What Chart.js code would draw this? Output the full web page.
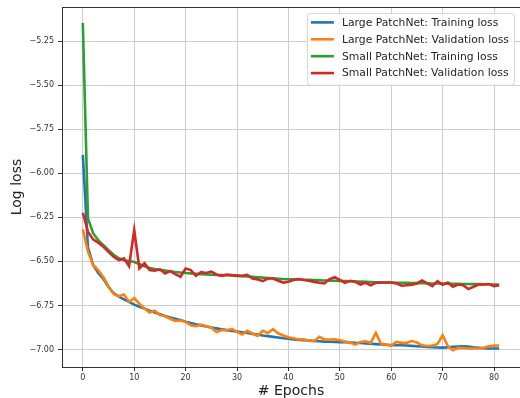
<!DOCTYPE html>
<html>
<head>
<meta charset="utf-8">
<script src="https://cdn.jsdelivr.net/npm/chart.js@4.4.1/dist/chart.umd.min.js"></script>
<style>
  html, body { margin: 0; padding: 0; background: #fff; }
  canvas { display: block; }
</style>
</head>
<body>
<canvas id="lossChart" width="520" height="398"></canvas>
<script>
// epochs on the x axis
const epochs = [0, 1, 2, 3, 4, 5, 6, 7, 8, 9, 10, 11, 12, 13, 14, 15, 16, 17, 18, 19,
  20, 21, 22, 23, 24, 25, 26, 27, 28, 29, 30, 31, 32, 33, 34, 35, 36, 37, 38, 39,
  40, 41, 42, 43, 44, 45, 46, 47, 48, 49, 50, 51, 52, 53, 54, 55, 56, 57, 58, 59,
  60, 61, 62, 63, 64, 65, 66, 67, 68, 69, 70, 71, 72, 73, 74, 75, 76, 77, 78, 79,
  80, 81];

// log loss per epoch
const largeTrain = [-5.896, -6.42, -6.52, -6.565, -6.60, -6.645, -6.68, -6.70, -6.715, -6.73,
  -6.745, -6.757, -6.768, -6.78, -6.79, -6.80, -6.81, -6.818, -6.826, -6.833,
  -6.842, -6.85, -6.857, -6.863, -6.869, -6.875, -6.88, -6.885, -6.89, -6.894,
  -6.898, -6.902, -6.906, -6.911, -6.915, -6.92, -6.924, -6.928, -6.932, -6.936,
  -6.939, -6.943, -6.945, -6.947, -6.949, -6.951, -6.953, -6.955, -6.956, -6.957,
  -6.958, -6.959, -6.96, -6.962, -6.963, -6.965, -6.967, -6.969, -6.971, -6.973,
  -6.975, -6.976, -6.976, -6.977, -6.979, -6.981, -6.983, -6.985, -6.987, -6.988,
  -6.989, -6.987, -6.985, -6.983, -6.981, -6.983, -6.987, -6.99, -6.993, -6.994,
  -6.994, -6.994];

const largeVal = [-6.318, -6.445, -6.52, -6.55, -6.59, -6.642, -6.685, -6.698, -6.688, -6.73,
  -6.708, -6.74, -6.767, -6.79, -6.78, -6.805, -6.811, -6.825, -6.837, -6.835,
  -6.843, -6.862, -6.868, -6.858, -6.868, -6.875, -6.90, -6.89, -6.89, -6.883,
  -6.90, -6.915, -6.894, -6.909, -6.923, -6.894, -6.906, -6.884, -6.908, -6.92,
  -6.93, -6.936, -6.943, -6.942, -6.95, -6.953, -6.928, -6.943, -6.943, -6.942,
  -6.947, -6.955, -6.96, -6.972, -6.957, -6.953, -6.962, -6.906, -6.968, -6.972,
  -6.978, -6.957, -6.962, -6.962, -6.952, -6.96, -6.976, -6.98, -6.978, -6.968,
  -6.919, -6.98, -7.004, -6.99, -6.991, -6.994, -6.994, -6.993, -6.99, -6.982,
  -6.978, -6.977];

const smallTrain = [-5.148, -6.256, -6.34, -6.38, -6.408, -6.436, -6.462, -6.482, -6.493, -6.498,
  -6.503, -6.515, -6.528, -6.537, -6.543, -6.548, -6.552, -6.556, -6.56, -6.563,
  -6.566, -6.568, -6.57, -6.572, -6.574, -6.576, -6.577, -6.578, -6.579, -6.58,
  -6.582, -6.584, -6.586, -6.588, -6.59, -6.592, -6.594, -6.596, -6.598, -6.60,
  -6.601, -6.602, -6.603, -6.604, -6.605, -6.606, -6.607, -6.608, -6.609, -6.61,
  -6.611, -6.612, -6.613, -6.614, -6.615, -6.616, -6.617, -6.618, -6.619, -6.62,
  -6.62, -6.621, -6.622, -6.622, -6.623, -6.623, -6.624, -6.624, -6.625, -6.625,
  -6.626, -6.626, -6.627, -6.627, -6.628, -6.628, -6.629, -6.629, -6.63, -6.63,
  -6.631, -6.631];

const smallVal = [-6.224, -6.332, -6.375, -6.394, -6.417, -6.445, -6.474, -6.493, -6.483, -6.527,
  -6.322, -6.54, -6.511, -6.549, -6.553, -6.545, -6.568, -6.555, -6.572, -6.587,
  -6.54, -6.549, -6.582, -6.561, -6.566, -6.558, -6.574, -6.582, -6.575, -6.578,
  -6.58, -6.582, -6.576, -6.597, -6.602, -6.612, -6.597, -6.597, -6.61, -6.62,
  -6.615, -6.605, -6.60, -6.606, -6.61, -6.616, -6.621, -6.625, -6.60, -6.59,
  -6.605, -6.621, -6.61, -6.616, -6.631, -6.621, -6.635, -6.621, -6.621, -6.62,
  -6.62, -6.625, -6.638, -6.635, -6.632, -6.625, -6.608, -6.625, -6.64, -6.612,
  -6.633, -6.62, -6.644, -6.631, -6.635, -6.657, -6.644, -6.631, -6.631, -6.629,
  -6.64, -6.635];

const seriesLabels = [
  'Large PatchNet: Training loss',
  'Large PatchNet: Validation loss',
  'Small PatchNet: Training loss',
  'Small PatchNet: Validation loss'
];

const xTicks = [0, 10, 20, 30, 40, 50, 60, 70, 80];
const yTicks = [-7.00, -6.75, -6.50, -6.25, -6.00, -5.75, -5.50, -5.25];

function toPoints(values) {
  return values.map((v, i) => ({ x: epochs[i], y: v }));
}

// matplotlib style minus sign
function fmtTick(v) {
  return (v < 0 ? '\u2212' : '') + Math.abs(v).toFixed(2);
}

Chart.defaults.font.family = '"DejaVu Sans", sans-serif';
Chart.defaults.color = '#333';

// top spine of the axes box
const frameTop = {
  id: 'frameTop',
  afterDraw(chart) {
    const { ctx, chartArea: a } = chart;
    ctx.save();
    ctx.strokeStyle = '#333';
    ctx.lineWidth = 1;
    ctx.beginPath();
    ctx.moveTo(a.left, Math.round(a.top) + 0.5);
    ctx.lineTo(a.right, Math.round(a.top) + 0.5);
    ctx.stroke();
    ctx.restore();
  }
};

// legend drawn inside the plot, upper right
const insideLegend = {
  id: 'insideLegend',
  afterDraw(chart) {
    const { ctx, chartArea: a } = chart;
    const sets = chart.data.datasets;
    const rowH = 16.9;
    ctx.save();
    ctx.font = '10.8px "DejaVu Sans"';
    let textW = 0;
    sets.forEach(ds => { textW = Math.max(textW, ctx.measureText(ds.label).width); });
    const w = 35 + textW + 5;
    const h = 21.1 + rowH * (sets.length - 1);
    const right = a.right - 6;
    const left = right - w;
    const top = a.top + 6;

    ctx.beginPath();
    ctx.roundRect(left + 0.5, top + 0.5, w, h, 3);
    ctx.fillStyle = 'rgba(255,255,255,0.85)';
    ctx.fill();
    ctx.strokeStyle = '#d5d5d5';
    ctx.lineWidth = 1;
    ctx.stroke();

    sets.forEach((ds, i) => {
      const y = top + 9.4 + i * rowH;
      ctx.beginPath();
      ctx.strokeStyle = ds.borderColor;
      ctx.lineWidth = 2.6;
      ctx.moveTo(left + 4, y);
      ctx.lineTo(left + 27, y);
      ctx.stroke();
      ctx.fillStyle = '#262626';
      ctx.textBaseline = 'middle';
      ctx.textAlign = 'left';
      ctx.fillText(ds.label, left + 35, y + 0.5);
    });
    ctx.restore();
  }
};

const gridColor = '#cdcdcd';

const config = {
  type: 'line',
  data: {
    datasets: [
      { label: seriesLabels[0], data: toPoints(largeTrain), borderColor: '#1f77b4', order: 4 },
      { label: seriesLabels[1], data: toPoints(largeVal), borderColor: '#ff7f0e', order: 3 },
      { label: seriesLabels[2], data: toPoints(smallTrain), borderColor: '#2ca02c', order: 2 },
      { label: seriesLabels[3], data: toPoints(smallVal), borderColor: '#d62728', order: 1 }
    ]
  },
  options: {
    responsive: false,
    animation: false,
    layout: { padding: { top: 7, right: -3, bottom: 0, left: 0 } },
    elements: {
      point: { radius: 0 },
      line: { borderWidth: 2.6, tension: 0, fill: false }
    },
    plugins: {
      legend: { display: false },
      tooltip: { enabled: false }
    },
    scales: {
      x: {
        type: 'linear',
        min: -4.05,
        max: 85.05,
        afterBuildTicks: s => { s.ticks = xTicks.map(v => ({ value: v })); },
        afterFit: s => { s.height = 31; s.paddingLeft = 0; s.paddingRight = 0; },
        grid: { color: gridColor, lineWidth: 1, tickColor: '#333', tickLength: 4 },
        border: { color: '#333', width: 1 },
        ticks: { font: { size: 8 }, padding: 2, maxRotation: 0, callback: v => String(v) },
        title: { display: true, text: '# Epochs', font: { size: 14, lineHeight: 1 }, color: '#222', padding: 0 }
      },
      y: {
        min: -7.099,
        max: -5.057,
        afterBuildTicks: s => { s.ticks = yTicks.map(v => ({ value: v })); },
        afterFit: s => { s.width = 62; s.paddingTop = 0; s.paddingBottom = 0; },
        grid: { color: gridColor, lineWidth: 1, tickColor: '#333', tickLength: 4 },
        border: { color: '#333', width: 1 },
        ticks: { font: { size: 8 }, padding: 4, callback: v => fmtTick(v) },
        title: { display: true, text: 'Log loss', font: { size: 14, lineHeight: 1 }, color: '#222', padding: { top: 10, bottom: 0 } }
      }
    }
  },
  plugins: [frameTop, insideLegend]
};

const ctx = document.getElementById('lossChart').getContext('2d');
new Chart(ctx, config);
</script>
</body>
</html>
